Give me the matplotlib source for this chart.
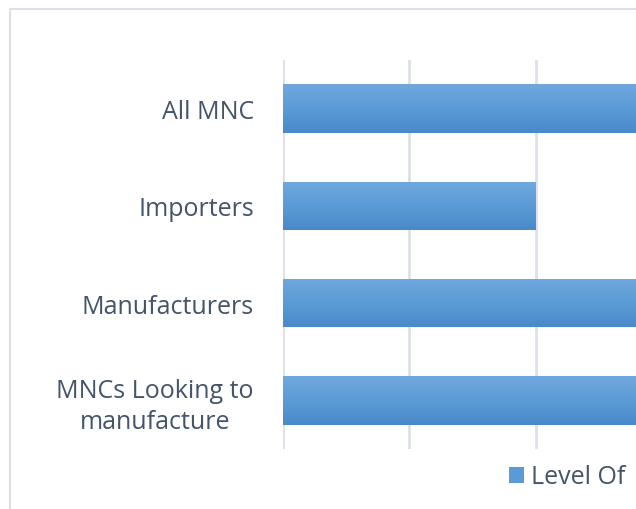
import numpy as np
import matplotlib.pyplot as plt
from matplotlib.colors import LinearSegmentedColormap
from matplotlib.lines import Line2D
from matplotlib.patches import Patch

# data
categories = ["All MNC", "Importers", "Manufacturers", "MNCs Looking to\nmanufacture"]
level_of = [3, 2, 3, 3]
series_name = "Level Of"

text_col = "#44546a"
grid_col = "#dce1e9"
grad = LinearSegmentedColormap.from_list("g", ["#4a89c9", "#5b9bd5", "#70a8de"])
fnt = ["Open Sans", "DejaVu Sans"]

fig = plt.figure(figsize=(6.36, 5.10), dpi=100)
ax = fig.add_axes([283 / 636, 60 / 510, 379 / 636, 389 / 510])

y = np.arange(len(categories))
bars = ax.barh(y, level_of, height=0.5, color="none", edgecolor="none", zorder=2)

# vertical gradient inside each bar
g = np.linspace(0, 1, 256).reshape(-1, 1)
for b in bars:
    x0, y0 = b.get_x(), b.get_y()
    w, h = b.get_width(), b.get_height()
    im = ax.imshow(g, cmap=grad, aspect="auto", origin="lower",
                   extent=[x0, x0 + w, y0 + h, y0], zorder=2)
    im.set_clip_path(b)

ax.set_ylim(3.5, -0.5)
ax.set_xlim(0, 3)
ax.set_xticks([0, 1, 2, 3])
ax.xaxis.grid(True, color=grid_col, linewidth=2)
ax.set_axisbelow(True)
ax.tick_params(axis="x", length=0, labelbottom=False)
ax.tick_params(axis="y", length=0, pad=21)
ax.set_yticks(y)
ax.set_yticklabels(categories, fontsize=18, color=text_col,
                   family=fnt, multialignment="center", linespacing=1.3)
for s in ax.spines.values():
    s.set_visible(False)

# chart frame (cropped at right and bottom)
fig.add_artist(Line2D([10 / 636, 10 / 636], [0, 1 - 9.5 / 510],
                      transform=fig.transFigure, color=grid_col, lw=1.5))
fig.add_artist(Line2D([10 / 636, 1], [1 - 9.5 / 510, 1 - 9.5 / 510],
                      transform=fig.transFigure, color=grid_col, lw=1.5))

handle = Patch(facecolor="#5b9bd5", edgecolor="none")
fig.legend([handle], [series_name], loc="center", bbox_to_anchor=(567 / 636, 1 - 478 / 510),
           frameon=False, handlelength=0.6, handleheight=0.6, handletextpad=0.3,
           prop={"family": fnt, "size": 18}, labelcolor=text_col)

fig.savefig("out.png", dpi=100)
